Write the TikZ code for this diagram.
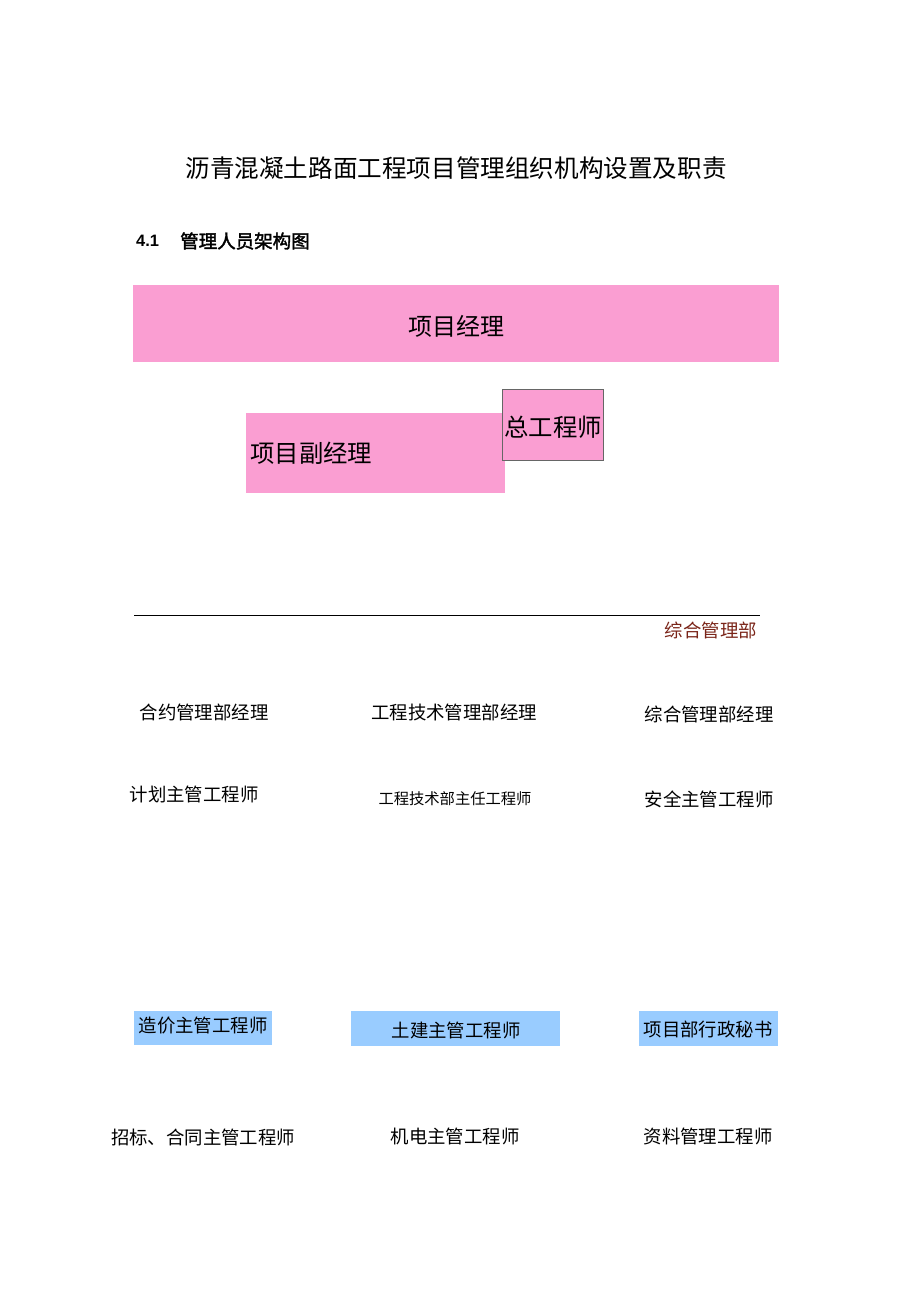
\documentclass[tikz,border=0pt]{standalone}
\usepackage{fontspec}
\setmainfont{Liberation Sans}
\newfontfamily\cjk{Noto Sans CJK SC}
\newfontfamily\cjkb[FakeBold=2]{Noto Sans CJK SC}
\definecolor{pinkfill}{HTML}{FA9ED2}
\definecolor{bluefill}{HTML}{99CCFF}
\definecolor{deptred}{HTML}{7A2418}
\begin{document}
\begin{tikzpicture}[x=1pt,y=-1pt,
  lbl/.style={inner sep=0pt, font=\cjk\fontsize{18.4}{20}\selectfont},
  pinkbox/.style={fill=pinkfill, draw=none},
  bluebox/.style={fill=bluefill, draw=none}]
\useasboundingbox (0,0) rectangle (920,1301);
% title
\node[inner sep=0pt, font=\cjk\fontsize{24.6}{26}\selectfont] (title) at (456,168) {沥青混凝土路面工程项目管理组织机构设置及职责};
\node[inner sep=0pt, anchor=west, font=\bfseries\fontsize{16.5}{18}\selectfont] (secnum) at (136,241) {4.1};
\node[inner sep=0pt, anchor=west, font=\cjkb\fontsize{18.5}{20}\selectfont] (sectitle) at (180,241) {管理人员架构图};
% top boxes
\path[pinkbox] (133,285) rectangle (779,362);
\node[inner sep=0pt, font=\cjk\fontsize{24}{26}\selectfont] (pm) at (456,326) {项目经理};
\path[pinkbox] (246,413) rectangle (505,493);
\node[inner sep=0pt, anchor=west, font=\cjk\fontsize{24.4}{26}\selectfont] (dpm) at (250,453) {项目副经理};
\path[pinkbox, draw=gray!80!black, line width=0.8pt] (502,389) rectangle (603,460);
\node[inner sep=0pt, font=\cjk\fontsize{24.4}{26}\selectfont] (ce) at (553,427) {总工程师};
% line and dept
\coordinate (la) at (134,615);
\coordinate (lb) at (760,615);
\draw[line width=0.8pt] (la) -- (lb);
\node[lbl, anchor=east, text=deptred] (dept) at (757,630) {综合管理部};
% row 1
\node[lbl] (r1a) at (204,712) {合约管理部经理};
\node[lbl] (r1b) at (454,712) {工程技术管理部经理};
\node[lbl] (r1c) at (709,714) {综合管理部经理};
% row 2
\node[lbl] (r2a) at (194,794) {计划主管工程师};
\node[inner sep=0pt, font=\cjk\fontsize{15.3}{17}\selectfont] (r2b) at (455,799) {工程技术部主任工程师};
\node[lbl] (r2c) at (709,799) {安全主管工程师};
% row 3 blue boxes
\path[bluebox] (134,1011) rectangle (272,1045);
\node[lbl] (r3a) at (203,1026) {造价主管工程师};
\path[bluebox] (351,1011) rectangle (560,1046);
\node[lbl] (r3b) at (456,1030) {土建主管工程师};
\path[bluebox] (639,1011) rectangle (778,1046);
\node[lbl] (r3c) at (708,1029) {项目部行政秘书};
% row 4
\node[lbl] (r4a) at (203,1137) {招标、合同主管工程师};
\node[lbl] (r4b) at (455,1136) {机电主管工程师};
\node[lbl] (r4c) at (708,1136) {资料管理工程师};
\end{tikzpicture}
\end{document}
